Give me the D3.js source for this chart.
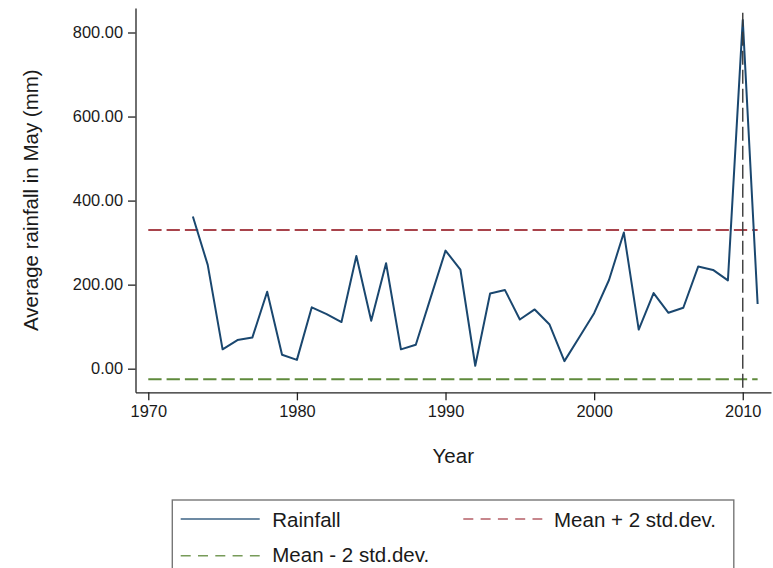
<!DOCTYPE html>
<html>
<head>
<meta charset="utf-8">
<script src="https://cdn.jsdelivr.net/npm/d3@7"></script>
<style>
  html, body { margin: 0; padding: 0; background: #fff; }
  svg { display: block; font-family: "Liberation Sans", Arial, sans-serif; }
</style>
</head>
<body>
<svg id="chart" width="773" height="568"></svg>
<script>
// May rainfall series, one value per year (mm)
const years = [1973, 1974, 1975, 1976, 1977, 1978, 1979, 1980, 1981, 1982,
               1983, 1984, 1985, 1986, 1987, 1988, 1989, 1990, 1991, 1992,
               1993, 1994, 1995, 1996, 1997, 1998, 1999, 2000, 2001, 2002,
               2003, 2004, 2005, 2006, 2007, 2008, 2009, 2010, 2011];
const rainfall = [362, 247, 46, 68, 74, 183, 33, 21, 146, 130,
                  111, 268, 114, 251, 46, 57, 169, 281, 236, 7,
                  179, 187, 117, 141, 105, 18, 75, 132, 211, 324,
                  93, 180, 133, 145, 243, 235, 210, 830, 154];

// Control limits drawn across the period
const limitYears = [1970, 2011];
const upperLimit = 330;   // mean + 2 std.dev.
const lowerLimit = -25;   // mean - 2 std.dev.

// Year of the marked extreme event and the reach of its guide line
const markYear = 2010;
const markTop = 847;

// Axis ticks
const xTicks = [1970, 1980, 1990, 2000, 2010];
const yTicks = [0, 200, 400, 600, 800];

// Legend entries
const legendLabels = ["Rainfall", "Mean + 2 std.dev.", "Mean - 2 std.dev."];

const colors = { rain: "#1a476f", upper: "#a8434b", lower: "#5f8a3c", mark: "#3a3a3a" };

const svg = d3.select("#chart");

const x = d3.scaleLinear().domain([1969.14, 2011.9]).range([135.5, 771]);
const y = d3.scaleLinear().domain([-56.2, 858.3]).range([392.3, 8]);

// Threshold lines
const limitLine = d3.line().x(d => x(d[0])).y(d => y(d[1]));
svg.append("path")
  .attr("d", limitLine(limitYears.map(t => [t, upperLimit])))
  .attr("fill", "none").attr("stroke", colors.upper)
  .attr("stroke-width", 2).attr("stroke-dasharray", "13.3,5");
svg.append("path")
  .attr("d", limitLine(limitYears.map(t => [t, lowerLimit])))
  .attr("fill", "none").attr("stroke", colors.lower)
  .attr("stroke-width", 2).attr("stroke-dasharray", "13.3,5");

// Rainfall series
const rainLine = d3.line().x((d, i) => x(years[i])).y(d => y(d));
svg.append("path")
  .attr("d", rainLine(rainfall))
  .attr("fill", "none").attr("stroke", colors.rain)
  .attr("stroke-width", 2).attr("stroke-linejoin", "round");

// Guide line at the extreme year
svg.append("line")
  .attr("x1", x(markYear)).attr("x2", x(markYear))
  .attr("y1", y(markTop)).attr("y2", y(y.domain()[0]))
  .attr("stroke", colors.mark).attr("stroke-width", 1.4)
  .attr("stroke-dasharray", "14,5");

// Axes
const xAxis = svg.append("g")
  .attr("transform", `translate(0,${y(y.domain()[0])})`)
  .call(d3.axisBottom(x).tickValues(xTicks).tickFormat(d3.format("d"))
        .tickSize(8).tickPadding(5).tickSizeOuter(0));
const yAxis = svg.append("g")
  .attr("transform", `translate(${x(x.domain()[0])},0)`)
  .call(d3.axisLeft(y).tickValues(yTicks).tickFormat(d3.format(".2f"))
        .tickSize(7.5).tickPadding(5).tickSizeOuter(0));

[xAxis, yAxis].forEach(g => {
  g.select(".domain").attr("stroke", "#222").attr("stroke-width", 1.3);
  g.selectAll(".tick line").attr("stroke", "#222").attr("stroke-width", 1.3);
  g.selectAll(".tick text")
    .attr("fill", "#1a1a1a").style("font-size", "16.4px")
    .style("font-family", "\"Liberation Sans\", Arial, sans-serif");
});

// Axis titles
svg.append("text")
  .attr("x", (x.range()[0] + x.range()[1]) / 2).attr("y", 463)
  .attr("text-anchor", "middle").attr("fill", "#1a1a1a")
  .style("font-size", "20.5px").text("Year");
svg.append("text")
  .attr("transform", `translate(38,${(y.range()[0] + y.range()[1]) / 2}) rotate(-90)`)
  .attr("text-anchor", "middle").attr("fill", "#1a1a1a")
  .style("font-size", "20.5px").text("Average rainfall in May (mm)");

// Legend
const legend = svg.append("g");
legend.append("rect")
  .attr("x", 172.3).attr("y", 500).attr("width", 561.5).attr("height", 90)
  .attr("fill", "#fff").attr("stroke", "#777").attr("stroke-width", 1.4);

const entries = [
  { label: legendLabels[0], color: colors.rain, dash: null, lx: 180.7, ly: 519, tx: 272.3, ty: 526.5 },
  { label: legendLabels[1], color: colors.upper, dash: "10,7.3", lx: 463.3, ly: 519, tx: 554, ty: 526.5 },
  { label: legendLabels[2], color: colors.lower, dash: "10,7.3", lx: 180.7, ly: 555.7, tx: 272.3, ty: 561.7 }
];
entries.forEach(e => {
  legend.append("line")
    .attr("x1", e.lx).attr("x2", e.lx + 79).attr("y1", e.ly).attr("y2", e.ly)
    .attr("stroke", e.color).attr("stroke-width", 1.6)
    .attr("stroke-opacity", 0.85)
    .attr("stroke-dasharray", e.dash);
  legend.append("text")
    .attr("x", e.tx).attr("y", e.ty).attr("fill", "#1a1a1a")
    .style("font-size", "20.5px").text(e.label);
});
</script>
</body>
</html>
